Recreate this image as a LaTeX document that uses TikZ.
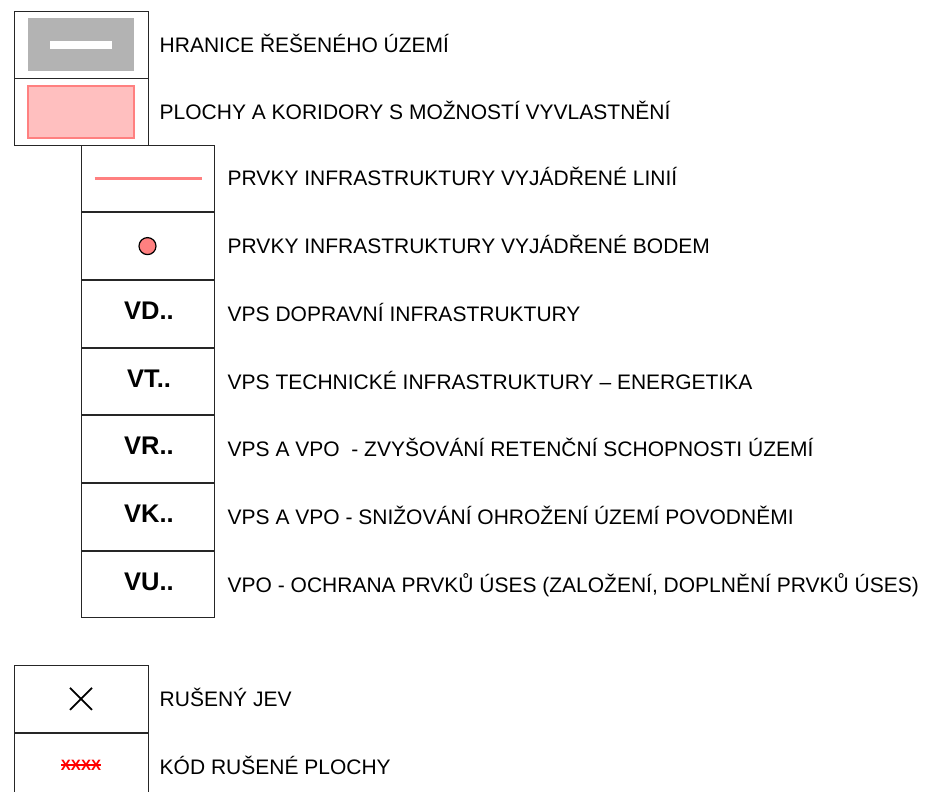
\documentclass[tikz,border=0pt]{standalone}
\usepackage{fontspec}
\setmainfont{Liberation Sans}
\usetikzlibrary{positioning}
\definecolor{pinkline}{HTML}{FF8080}
\definecolor{pinkfill}{HTML}{FFBFBF}
\definecolor{boxgray}{HTML}{B3B3B3}
\tikzset{
  cell/.style={draw=black!85, line width=1pt, minimum width=134pt, minimum height=66.7pt, inner sep=0pt},
  lbl/.style={font=\fontsize{21}{25}\selectfont, inner sep=0pt, text height=15pt, text depth=0pt},
  code/.style={font=\bfseries\fontsize{25.5}{30}\selectfont, inner sep=0pt, text height=18pt, text depth=0pt},
}
\begin{document}
\begin{tikzpicture}[x=1pt,y=-1pt]
  \clip (0,0) rectangle (932,792);
  % horni dvojice
  \node[cell] (hr) at (81,45) {};
  \node[cell] (vy) at (81,111.7) {};
  \node[fill=boxgray, minimum width=106pt, minimum height=53pt] at (hr) {};
  \node[fill=white, inner sep=0pt, minimum width=62pt, minimum height=8pt] at (hr) {};
  \node[draw=pinkline, fill=pinkfill, line width=2pt, minimum width=106pt, minimum height=52pt] at (vy) {};
  \node[lbl, right=11pt of hr] (hrt) {HRANICE ŘEŠENÉHO ÚZEMÍ};
  \node[lbl, right=11pt of vy] (vyt) {PLOCHY A KORIDORY S MOŽNOSTÍ VYVLASTNĚNÍ};
  % sloupec VPS / VPO
  \node[cell, minimum width=133pt] (li) at (147.5,178.4) {};
  \node[cell, minimum width=133pt, below=0pt of li] (bo) {};
  \node[cell, minimum width=133pt, below=0pt of bo] (vd) {};
  \node[cell, minimum width=133pt, below=0pt of vd] (vt) {};
  \node[cell, minimum width=133pt, below=0pt of vt] (vr) {};
  \node[cell, minimum width=133pt, below=0pt of vr] (vk) {};
  \node[cell, minimum width=133pt, below=0pt of vk] (vu) {};
  \draw[pinkline, line width=3.7pt] ([xshift=-53pt]li.center) -- ([xshift=54pt]li.center);
  \node[circle, draw, fill=pinkline, line width=1.2pt, minimum size=17pt, inner sep=0pt] at (bo) {};
  \node[code] at ([shift={(1.5,-3.5)}]vd.center) {VD..};
  \node[code] at ([shift={(1.5,-3.5)}]vt.center) {VT..};
  \node[code] at ([shift={(1.5,-3.5)}]vr.center) {VR..};
  \node[code] at ([shift={(1.5,-3.5)}]vk.center) {VK..};
  \node[code] at ([shift={(1.5,-3.5)}]vu.center) {VU..};
  \node[lbl, right=13pt of li] (lit) {PRVKY INFRASTRUKTURY VYJÁDŘENÉ LINIÍ};
  \node[lbl, right=13pt of bo] (bot) {PRVKY INFRASTRUKTURY VYJÁDŘENÉ BODEM};
  \node[lbl, right=13pt of vd] (vdt) {VPS DOPRAVNÍ INFRASTRUKTURY};
  \node[lbl, right=13pt of vt] (vtt) {VPS TECHNICKÉ INFRASTRUKTURY – ENERGETIKA};
  \node[lbl, right=13pt of vr] (vrt) {VPS A VPO~ - ZVYŠOVÁNÍ RETENČNÍ SCHOPNOSTI ÚZEMÍ};
  \node[lbl, right=13pt of vk] (vkt) {VPS A VPO - SNIŽOVÁNÍ OHROŽENÍ ÚZEMÍ POVODNĚMI};
  \node[lbl, right=13pt of vu] (vut) {VPO - OCHRANA PRVKŮ ÚSES (ZALOŽENÍ, DOPLNĚNÍ PRVKŮ ÚSES)};
  % rusene jevy
  \node[cell] (ru) at (81,698.8) {};
  \node[cell, below=0pt of ru] (kd) {};
  \draw[line width=1.8pt] ([shift={(-11,-11)}]ru.center) -- ([shift={(11,11)}]ru.center);
  \draw[line width=1.8pt] ([shift={(-11,11)}]ru.center) -- ([shift={(11,-11)}]ru.center);
  \node[text=red, font=\bfseries\fontsize{15}{16}\selectfont, inner sep=0pt] (kx) at ([yshift=1.5pt]kd.center) {XXXX};
  \draw[red, line width=1.2pt] (kx.west) -- (kx.east);
  \node[lbl, right=11pt of ru] (rut) {RUŠENÝ JEV};
  \node[lbl, right=11pt of kd] (kdt) {KÓD RUŠENÉ PLOCHY};
\end{tikzpicture}
\end{document}
